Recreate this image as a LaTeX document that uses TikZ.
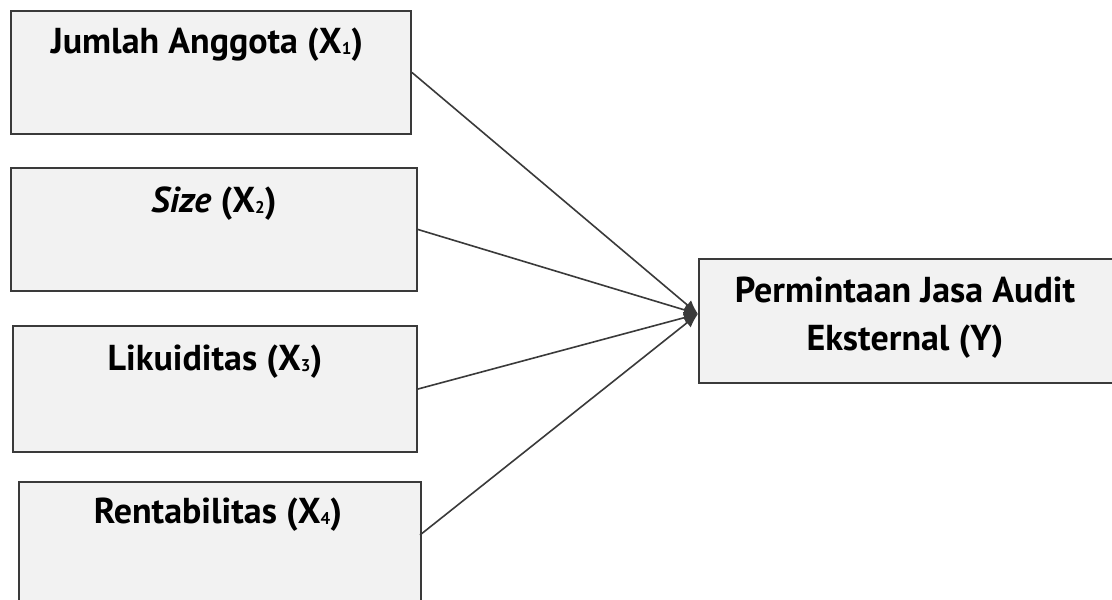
\documentclass[tikz,border=0pt]{standalone}
\usepackage{fontspec}
\setmainfont{PT Sans}
\usetikzlibrary{arrows.meta,calc}
\definecolor{boxfill}{HTML}{F2F2F2}
\definecolor{boxline}{HTML}{3A3A3A}
\newcommand{\vsub}[1]{\raisebox{-1.5pt}{\fontsize{17}{17}\selectfont #1}}
\tikzset{
  varbox/.style={draw=boxline, line width=2pt, fill=boxfill, rectangle, anchor=north west, inner sep=0pt},
  lbl/.style={anchor=base, font=\fontsize{36}{48}\selectfont\bfseries, inner sep=0pt, align=center},
  conn/.style={draw=boxline, line width=1.6pt, -{Latex[length=14pt,width=12pt]}}
}
\begin{document}
\begin{tikzpicture}[x=1pt,y=-1pt]
\useasboundingbox (0,0) rectangle (1112,600);
\clip (0,0) rectangle (1112,600);
\fill[white] (0,0) rectangle (1112,600);
\node[varbox, minimum width=400pt, minimum height=123pt] (b1) at (10,10) {};
\node[varbox, minimum width=406pt, minimum height=123pt] (b2) at (10,167) {};
\node[varbox, minimum width=404pt, minimum height=126pt] (b3) at (12,325) {};
\node[varbox, minimum width=402pt, minimum height=130pt] (b4) at (18,481) {};
\node[varbox, minimum width=416pt, minimum height=124pt] (y) at (698,258) {};
\node[lbl] (t1) at ($(b1.north)+(-4,43)$) {Jumlah Anggota (X\vsub{1})};
\node[lbl] (t2) at ($(b2.north)+(0,45)$) {\textit{Size} (X\vsub{2})};
\node[lbl] (t3) at ($(b3.north)+(0,45)$) {Likuiditas (X\vsub{3})};
\node[lbl] (t4) at ($(b4.north)+(-2,42)$) {Rentabilitas (X\vsub{4})};
\node[lbl] (ty) at ($(y.north)+(-2,92)$) {Permintaan Jasa Audit\\Eksternal (Y)};
\coordinate (target) at ($(y.west)+(0,-7)$);
\coordinate (s4) at (420,535);
\draw[conn] (b1.east) -- (target);
\draw[conn] (b2.east) -- (target);
\draw[conn] (b3.east) -- (target);
\draw[conn] (s4) -- (target);
\end{tikzpicture}
\end{document}
